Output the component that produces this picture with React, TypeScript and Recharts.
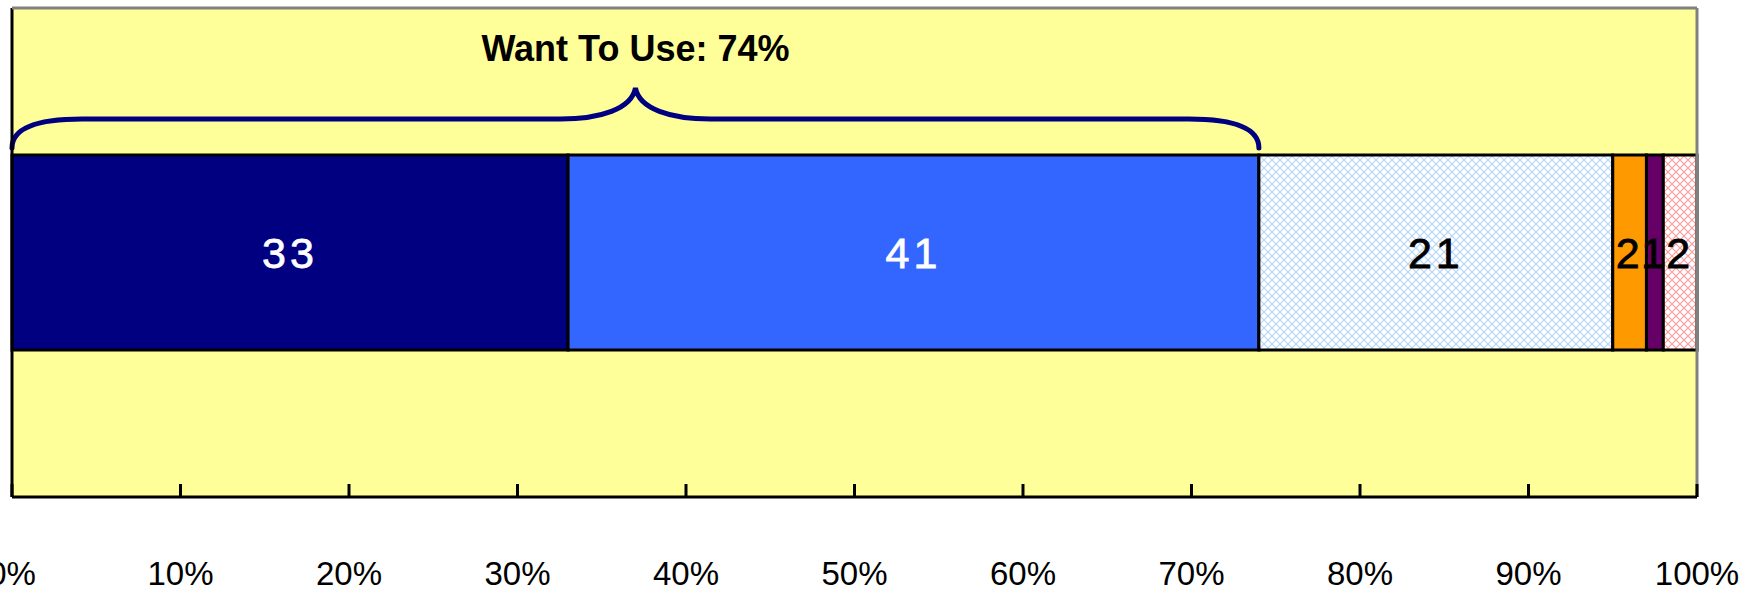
import { BarChart, Bar, XAxis, YAxis, CartesianGrid, LabelList, ReferenceLine, ReferenceArea } from 'recharts';

const categories = ['Response'];
const segmentKeys = ['definitely', 'probably', 'notSure', 'probablyNot', 'definitelyNot', 'noAnswer'];
const segmentValues = [33, 41, 21, 2, 1, 2];
const segmentFills = ['#000080', '#3366FF', 'url(#hatch-blue)', '#FF9900', '#660066', 'url(#hatch-pink)'];
const labelColors = ['#FFFFFF', '#FFFFFF', '#000000', '#000000', '#000000', '#000000'];
const xTicks = [0, 10, 20, 30, 40, 50, 60, 70, 80, 90, 100];

const wantToUse = segmentValues[0] + segmentValues[1];

const data = categories.map((name) => {
  const row: Record<string, string | number> = { name };
  segmentKeys.forEach((k, i) => {
    row[k] = segmentValues[i];
  });
  return row;
});

const FONT = '"Liberation Sans", Arial, sans-serif';

function PercentTick(props: any) {
  const { x, y, payload } = props;
  return (
    <g>
      <line x1={x} x2={x} y1={y - 13} y2={y} stroke="#000" strokeWidth={3} />
      <text x={x} y={y + 88} textAnchor="middle" fontSize={33} fontFamily={FONT} fill="#000">
        {`${payload.value}%`}
      </text>
    </g>
  );
}

function Brace(props: any) {
  const { x, width } = props;
  const x0 = x;
  const x1 = x + width;
  const mid = (x0 + x1) / 2;
  const yEnd = 148;
  const yFlat = 119;
  const yPeak = 88;
  const d = [
    `M ${x0} ${yEnd}`,
    `C ${x0} ${yFlat + 8} ${x0 + 28} ${yFlat} ${x0 + 70} ${yFlat}`,
    `L ${mid - 75} ${yFlat}`,
    `C ${mid - 35} ${yFlat} ${mid - 4} ${yFlat - 10} ${mid} ${yPeak}`,
    `C ${mid + 4} ${yFlat - 10} ${mid + 35} ${yFlat} ${mid + 75} ${yFlat}`,
    `L ${x1 - 70} ${yFlat}`,
    `C ${x1 - 28} ${yFlat} ${x1} ${yFlat + 8} ${x1} ${yEnd}`,
  ].join(' ');
  return (
    <g>
      <path d={d} fill="none" stroke="#000080" strokeWidth={5} strokeLinecap="round" />
      <text x={mid} y={61} textAnchor="middle" fontSize={36} fontWeight="bold" fontFamily={FONT} fill="#000">
        {`Want To Use: ${wantToUse}%`}
      </text>
    </g>
  );
}

export default function App() {
  return (
    <div style={{ position: 'absolute', left: 0, top: 0, background: '#fff' }}>
      <BarChart
        width={1753}
        height={594}
        data={data}
        layout="vertical"
        margin={{ top: 7, right: 56, bottom: 7, left: 12 }}
      >
        <defs>
          <pattern id="hatch-blue" width="8" height="8" patternUnits="userSpaceOnUse">
            <rect width="8" height="8" fill="#FFFFFF" />
            <path d="M0 0 L8 8 M8 0 L0 8" stroke="#B4D6FA" strokeWidth={1.2} />
          </pattern>
          <pattern id="hatch-pink" width="8" height="8" patternUnits="userSpaceOnUse">
            <rect width="8" height="8" fill="#FFFFFF" />
            <path d="M0 0 L8 8 M8 0 L0 8" stroke="#FF9C9C" strokeWidth={1.2} />
          </pattern>
        </defs>
        <CartesianGrid fill="#FFFF99" stroke="none" horizontal={false} vertical={false} />
        <XAxis
          type="number"
          domain={[0, 100]}
          ticks={xTicks}
          interval={0}
          height={90}
          tickSize={0}
          tickMargin={0}
          tickLine={false}
          axisLine={{ stroke: '#000', strokeWidth: 3 }}
          tick={<PercentTick />}
        />
        <XAxis
          xAxisId="top"
          orientation="top"
          type="number"
          domain={[0, 100]}
          height={1}
          tick={false}
          tickLine={false}
          axisLine={{ stroke: '#808080', strokeWidth: 3 }}
        />
        <YAxis type="category" dataKey="name" hide />
        <ReferenceLine x={100} stroke="#808080" strokeWidth={3} />
        <ReferenceLine x={0} stroke="#000" strokeWidth={3} />
        {segmentKeys.map((k, i) => (
          <Bar
            key={k}
            dataKey={k}
            stackId="a"
            fill={segmentFills[i]}
            stroke="#000"
            strokeWidth={3}
            barSize={195}
            isAnimationActive={false}
          >
            <LabelList
              dataKey={k}
              position="center"
              fill={labelColors[i]}
              stroke={labelColors[i]}
              strokeWidth={0.8}
              fontSize={43}
              fontFamily={FONT}
              letterSpacing={4}
            />
          </Bar>
        ))}
        <ReferenceArea x1={0} x2={wantToUse} fill="none" stroke="none" shape={<Brace />} />
      </BarChart>
    </div>
  );
}
